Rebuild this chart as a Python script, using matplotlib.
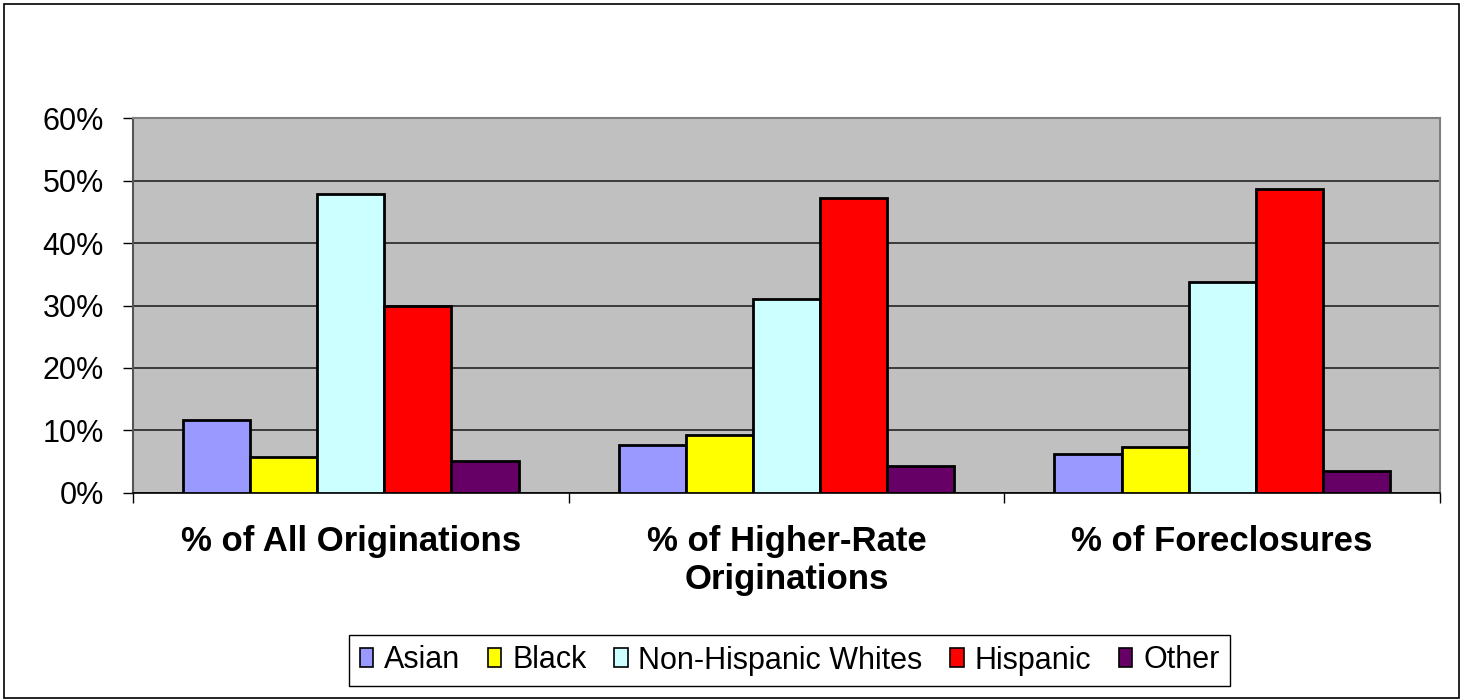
import numpy as np
import matplotlib
matplotlib.use("Agg")
from matplotlib import pyplot as plt
from matplotlib.patches import Rectangle

# データ
categories = ["% of All Originations", "% of Higher-Rate\nOriginations", "% of Foreclosures"]
groups = ["Asian", "Black", "Non-Hispanic Whites", "Hispanic", "Other"]
asian = [11.6, 7.7, 6.2]
black = [5.8, 9.3, 7.3]
nh_whites = [47.9, 31.1, 33.8]
hispanic = [30.0, 47.2, 48.7]
other = [5.1, 4.2, 3.5]
yticks = [0, 10, 20, 30, 40, 50, 60]
colors = ["#9999FF", "#FFFF00", "#CCFFFF", "#FF0000", "#660066"]

if __name__ == "__main__":
    plt.rcParams['font.family'] = ['Liberation Sans', 'DejaVu Sans']
    W, H = 1461, 700
    fig = plt.figure(figsize=(W / 100, H / 100), dpi=100)

    # 外枠
    fig.patches.append(Rectangle((4 / W, 2 / H), (1455 / W), (694 / H), transform=fig.transFigure,
                                 fill=False, edgecolor="black", linewidth=1.2))

    ax = fig.add_axes([133 / W, 1 - 492.7 / H, (1440 - 133) / W, (492.7 - 118.3) / H])
    ax.set_facecolor("#C0C0C0")

    series = [asian, black, nh_whites, hispanic, other]
    x = np.arange(len(categories))
    w = 0.154
    for i, (vals, name, c) in enumerate(zip(series, groups, colors)):
        ax.bar(x + (i - 2) * w, vals, w, color=c, edgecolor="black", linewidth=2,
               label=name, zorder=3)

    ax.set_xlim(-0.5, 2.5)
    ax.set_ylim(0, 60)
    ax.set_yticks(yticks)
    ax.set_yticklabels([f"{v}%" for v in yticks], fontsize=22)
    ax.yaxis.grid(True, color="#3a3a3a", linewidth=1.4, zorder=1)
    ax.set_axisbelow(True)
    ax.tick_params(axis="y", direction="out", length=7, width=1, pad=14)

    ax.set_xticks(x)
    ax.set_xticklabels(categories, fontsize=25, fontweight="bold", linespacing=1.22)
    ax.tick_params(axis="x", which="major", length=0, pad=23)
    ax.set_xticks([-0.5, 0.5, 1.5, 2.5], minor=True)
    ax.tick_params(axis="x", which="minor", direction="out", length=7, width=1)

    for s in ["top", "right"]:
        ax.spines[s].set_color("#808080")
        ax.spines[s].set_linewidth(1.5)
    ax.spines["left"].set_color("#555555")
    ax.spines["left"].set_linewidth(1.5)
    ax.spines["bottom"].set_color("black")
    ax.spines["bottom"].set_linewidth(1.2)

    leg = fig.legend(loc="center", bbox_to_anchor=(789.5 / W, 1 - 660.5 / H), ncol=5,
                     fontsize=22, handlelength=0.45, handleheight=0.6, handletextpad=0.35,
                     columnspacing=0.9, fancybox=False, edgecolor="black",
                     borderpad=0.35, framealpha=1)
    leg.get_frame().set_linewidth(1.0)
    for h in leg.legend_handles:
        h.set_linewidth(1.2)

    fig.savefig("out.png", dpi=100)
